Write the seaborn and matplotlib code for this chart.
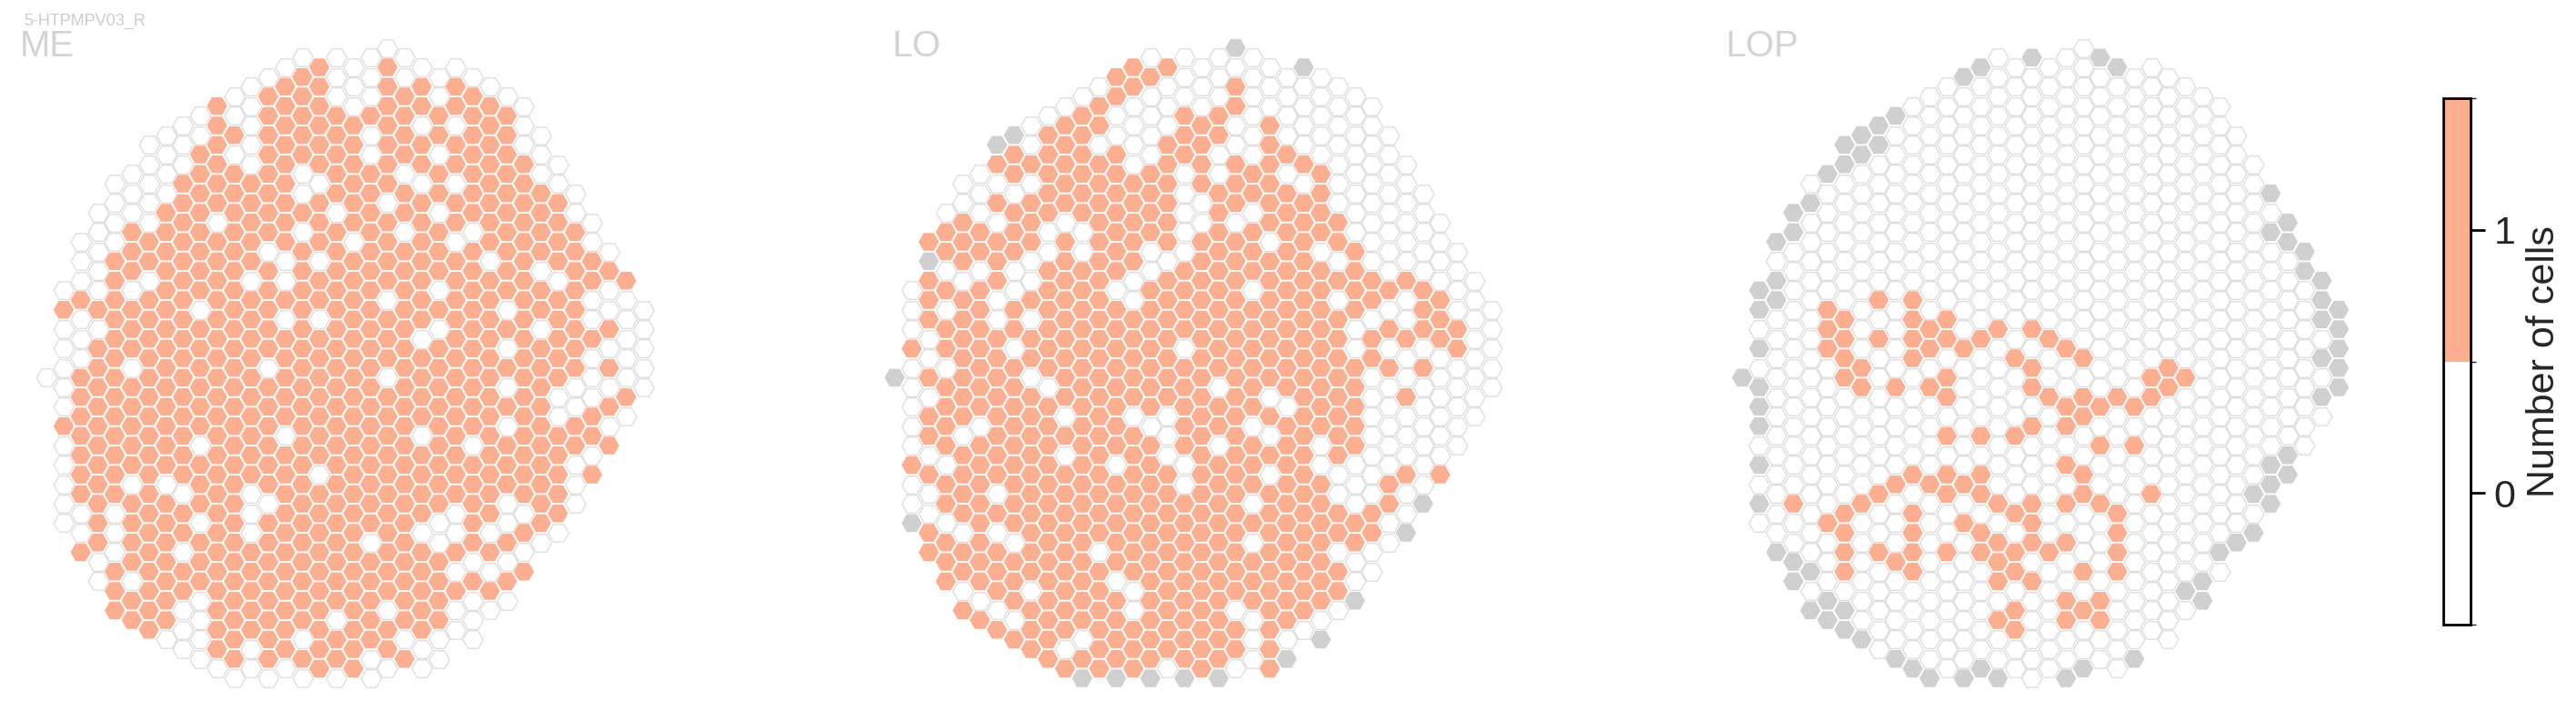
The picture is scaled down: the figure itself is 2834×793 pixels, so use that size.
import sys
import numpy as np
import pandas as pd
import matplotlib
matplotlib.use("Agg")
import matplotlib.pyplot as plt
from matplotlib.colors import ListedColormap, BoundaryNorm
from matplotlib.cm import ScalarMappable
import seaborn as sns

CELL_TYPE = "5-HTPMPV03_R"
PANELS = ["ME", "LO", "LOP"]
CB_TICKS = [0, 1]
CB_LABEL = "Number of cells"

# hex columns: first / last half-row of every column (shared by all neuropils)
COL_TOP = [34, 25, 20, 17, 14, 13, 10, 9, 8, 7, 6, 5, 4, 3, 2, 1, 2, 1, 2, 1, 0, 1, 2, 3, 2, 3, 4, 5, 6, 9, 12, 15, 18, 21, 24, 27]
COL_BOT = [34, 49, 52, 55, 58, 59, 60, 61, 62, 63, 64, 65, 64, 65, 64, 65, 64, 65, 64, 65, 64, 63, 64, 63, 60, 61, 58, 57, 54, 51, 50, 47, 44, 41, 38, 35]

# one string per hex row, left to right over the existing columns
# '1' = one cell, '0' = no cell, 'g' = column not in this neuropil
ME_ROWS = [
    "00000",
    "0011 0001 00000",
    "001111 000111 01100",
    "01001 11110 11111 11110",
    "00011 01111 11011 01011 100",
    "00011 00111 11101 11011 1100",
    "00001 11011 01111 10111 11110 0",
    "00001 11111 10011 11101 01111 100",
    "00001 11111 11110 11011 01111 1110",
    "00101 11011 11011 11101 11011 11110",
    "00011 11111 10111 10111 11011 11111 00",
    "00111 11111 11010 11111 11110 11011 11",
    "00010 01111 10101 11111 11011 11110 1101",
    "11111 11101 11111 11110 11111 10111 10000",
    "00011 11111 11101 01111 11011 11101 10100",
    "00111 11111 11111 11111 10111 10111 11000",
    "00110 11111 11011 11111 11111 11111 10100",
    "00111 11111 11111 11111 01111 11011 100000",
    "01111 11111 11111 11111 11111 11110 0011",
    "11111 11111 11111 11111 11111 10110 1100",
    "01111 11101 11101 11111 10110 11111 111",
    "01111 11111 11111 11111 11111 11111 00",
    "01110 10111 11111 01111 11111 11111 01",
    "01111 11011 10011 11111 11111 10111 0",
    "00101 11101 10111 11111 11001 10011",
    "01011 11111 01111 11011 00010 1100",
    "10011 10111 11111 11111 11101 00",
    "01011 11111 11111 11111 10101 1",
    "11111 01111 11111 11111 1010",
    "11110 01111 11101 10111 000",
    "10001 11110 11111 01000",
    "00110 11111 10110 0",
    "00000 01010 0 0",
]

LO_ROWS = [
    "000g0",
    "11110 00000 0g0",
    "00110 00001 00000 00",
    "00110 00010 11000 00000",
    "g0111 10000 11100 10000 000",
    "g1011 10100 11100 01100 0000",
    "01111 11110 11010 11101 10000 0",
    "00000 11111 11101 11111 01000 000",
    "00011 11111 11110 01101 11100 0000",
    "11101 10001 11110 01011 11110 00000",
    "11111 11010 11101 01111 01101 10000 00",
    "g0101 00111 11100 11111 11110 10000 00",
    "01101 10011 11001 11111 01111 11111 1000",
    "01011 01111 11101 11111 11111 01100 11000",
    "01111 01011 11111 11111 11111 10010 11100",
    "10111 10111 11111 10111 11111 10101 01100",
    "00011 11111 11111 11111 11111 11110 10000",
    "g0111 11100 11111 11110 11111 11100 000000",
    "00111 11111 11111 11111 10011 11001 0000",
    "01110 11110 11100 01111 01111 11000 0000",
    "01101 11111 11111 01101 10110 11000 000",
    "10011 11110 11011 00111 11110 10000 00",
    "01111 11111 11111 10111 10111 00011 01",
    "00111 01111 11111 11111 01111 00010 g",
    "g0011 11111 11111 11111 11111 11100",
    "11010 01111 11111 11110 11111 110g",
    "11111 11111 01111 11111 11110 00",
    "11111 11111 01111 11111 1111 00",
    "00110 11111 01111 11111 111g",
    "11001 11111 01111 10011 100",
    "11111 01111 11111 0100g",
    "11011 11111 11101 g",
    "1g1g1 g0g1g 0 1",
]

LOP_ROWS = [
    "0g00g",
    "gg000 0000g 000",
    "00000 00000 00000 00",
    "g0000 00000 00000 00000",
    "gg000 00000 00000 00000 000",
    "ggg00 00000 00000 00000 0000",
    "gg000 00000 00000 00000 00000 0",
    "00000 00000 00000 00000 00000 00g",
    "gg000 00000 00000 00000 00000 0000",
    "g0000 00000 00000 00000 00000 000gg",
    "g0000 00000 00000 00000 00000 00000 gg",
    "00000 00000 00000 00000 00000 00000 0g",
    "gg000 00000 00000 00000 00000 00000 000g",
    "gg001 00101 00000 00000 00000 00000 000gg",
    "00001 10001 11001 01000 00000 00000 000gg",
    "g0001 10101 11110 00110 00000 00000 0000g",
    "00000 11001 00000 11001 00001 00000 000gg",
    "gg000 01101 01100 00100 00001 11000 00000g",
    "g0000 00000 01000 00111 11110 00000 000g",
    "g0000 00000 00000 01011 00000 00000 0000",
    "00000 00000 01010 10000 10100 00000 000",
    "g0000 00000 00000 00010 00000 00000 gg",
    "00000 00011 11110 00001 00000 00000 gg",
    "g0100 01100 01011 01011 10010 0000g g",
    "00001 10001 00100 11000 01000 00000",
    "00001 00010 00110 10100 10000 00gg",
    "gg001 01110 10111 01000 10000 0g",
    "gg010 00100 00111 00101 0000g 0",
    "0g000 00000 00000 10100 00gg",
    "ggg00 00000 01100 11100 000",
    "gg000 00000 10000 00000",
    "0g000 00000 00000 g",
    "gg0gg g000g g0",
]

SALMON = "#fcae91"
GRAY = "#d0d0d0"
EDGE = "#d9d9d9"


def to_frame(rows):
    recs = []
    for r, line in enumerate(rows):
        line = line.replace(" ", "")
        cols = [c for c in range(36) if COL_TOP[c] <= 2 * r + c % 2 <= COL_BOT[c]]
        if len(line) != len(cols):
            print("row", r, "has", len(line), "want", len(cols), file=sys.stderr)
            line = (line + "0" * len(cols))[:len(cols)]
        for c, st in zip(cols, line):
            recs.append({"col": c, "hrow": 2 * r + c % 2, "state": st})
    return pd.DataFrame(recs)


sns.set_theme(style="white")
plt.rcParams["font.family"] = ["Liberation Sans", "DejaVu Sans"]

W, H = 2834, 793
fig = plt.figure(figsize=(W / 100, H / 100), dpi=100)

# pixel geometry of the hex lattice
X0 = [51.3, 984.3, 1916.7]
TITLE_X = [22, 982, 1899]
DX, DH, Y0 = 18.75, 10.667, 52.7

styles = [("0", "white", EDGE, 0.8), ("g", GRAY, "none", 0), ("1", SALMON, "none", 0)]

for name, rows, x0, tx in zip(PANELS, [ME_ROWS, LO_ROWS, LOP_ROWS], X0, TITLE_X):
    ax = fig.add_axes([(x0 - DX) / W, 1 - (Y0 + 67.5 * DH) / H, 37 * DX / W, 69.5 * DH / H])
    df = to_frame(rows)
    for st, fc, ec, lw in styles:
        sub = df[df.state == st]
        if len(sub) == 0:
            continue
        sns.scatterplot(data=sub, x="col", y="hrow", marker="H", s=262, color=fc,
                        edgecolor=ec, linewidth=lw, ax=ax, legend=False, zorder=2)
    ax.set_xlim(-1, 36)
    ax.set_ylim(67.5, -2)
    ax.set_axis_off()
    fig.text(tx / W, 1 - 62 / H, name, fontsize=29, color="#d3d3d3", va="baseline")

fig.text(26 / W, 1 - 28 / H, CELL_TYPE, fontsize=13, color="#cccccc", va="baseline")

# colorbar
cax = fig.add_axes([2688 / W, 1 - 687 / H, 30 / W, 579 / H])
cmap = ListedColormap(["white", SALMON])
norm = BoundaryNorm([-0.5, 0.5, 1.5], cmap.N)
cb = fig.colorbar(ScalarMappable(norm=norm, cmap=cmap), cax=cax, ticks=CB_TICKS)
cb.outline.set_linewidth(2)
cb.outline.set_edgecolor("black")
cb.ax.tick_params(right=True, length=11.5, width=2, color="black", labelsize=31, pad=7)
cb.set_label(CB_LABEL, fontsize=31, labelpad=8)

fig.savefig("out.png", dpi=100, facecolor="white")
